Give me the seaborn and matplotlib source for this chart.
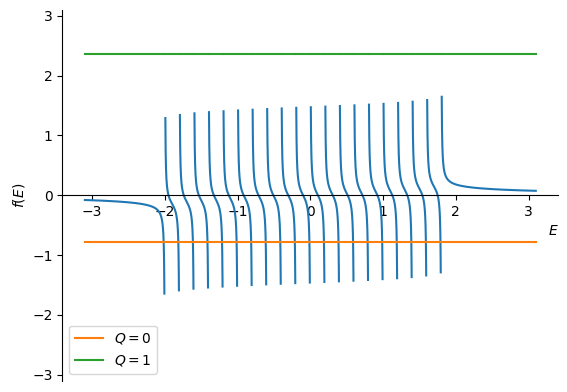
import numpy as np
import pandas as pd
import matplotlib
matplotlib.use("Agg")
import matplotlib.pyplot as plt
from matplotlib.lines import Line2D
import seaborn as sns

# ---- data ----
poles = [-2.0, -1.8, -1.6, -1.4, -1.2, -1.0, -0.8, -0.6, -0.4, -0.2,
         0.0, 0.2, 0.4, 0.6, 0.8, 1.0, 1.2, 1.4, 1.6, 1.8]
weights = [0.01] * 20
E_min, E_max = -3.1, 3.1
pole_gap = 0.0068
q_levels = [-0.785, 2.356]
q_labels = ["$Q=0$", "$Q=1$"]
q_colors = ["#ff7f0e", "#2ca02c"]
curve_color = "#1f77b4"

# ---- segments between poles ----
starts = [E_min] + [p + pole_gap for p in poles]
ends = [p - pole_gap for p in poles] + [E_max]
t = (1 - np.cos(np.pi * np.linspace(0, 1, 600))) / 2

rows_f, rows_q = [], []
for seg, (a, b) in enumerate(zip(starts, ends)):
    E = a + (b - a) * t
    f = sum(w / (E - p) for w, p in zip(weights, poles))
    rows_f.append(pd.DataFrame({"E": E, "f": f, "seg": seg}))
    for lab, lev in zip(q_labels, q_levels):
        rows_q.append(pd.DataFrame({"E": [a, b], "y": [lev, lev], "seg": seg, "Q": lab}))
df_f = pd.concat(rows_f, ignore_index=True)
df_q = pd.concat(rows_q, ignore_index=True)

fig = plt.figure(figsize=(5.67, 3.92), dpi=100)
ax = fig.add_axes([0.1099, 0.0291, 0.8748, 0.9459])

sns.lineplot(data=df_f, x="E", y="f", units="seg", estimator=None, sort=False,
             color=curve_color, linewidth=1.5, legend=False, ax=ax)
sns.lineplot(data=df_q, x="E", y="y", hue="Q", units="seg", estimator=None, sort=False,
             palette=q_colors, hue_order=q_labels, linewidth=1.5, legend=False, ax=ax)

ax.set_ylim(-3.1, 3.1)
ax.set_xticks([-3, -2, -1, 0, 1, 2, 3])
ax.set_yticks([-3, -2, -1, 0, 1, 2, 3])
ax.spines["bottom"].set_position("zero")
ax.spines["top"].set_visible(False)
ax.spines["right"].set_visible(False)
ax.set_xlabel("$E$", loc="right")
ax.set_ylabel("$f(E)$")

handles = [Line2D([], [], color=c, linewidth=1.5) for c in q_colors]
ax.legend(handles, q_labels, loc="lower left")

fig.savefig("out.png", dpi=100)
